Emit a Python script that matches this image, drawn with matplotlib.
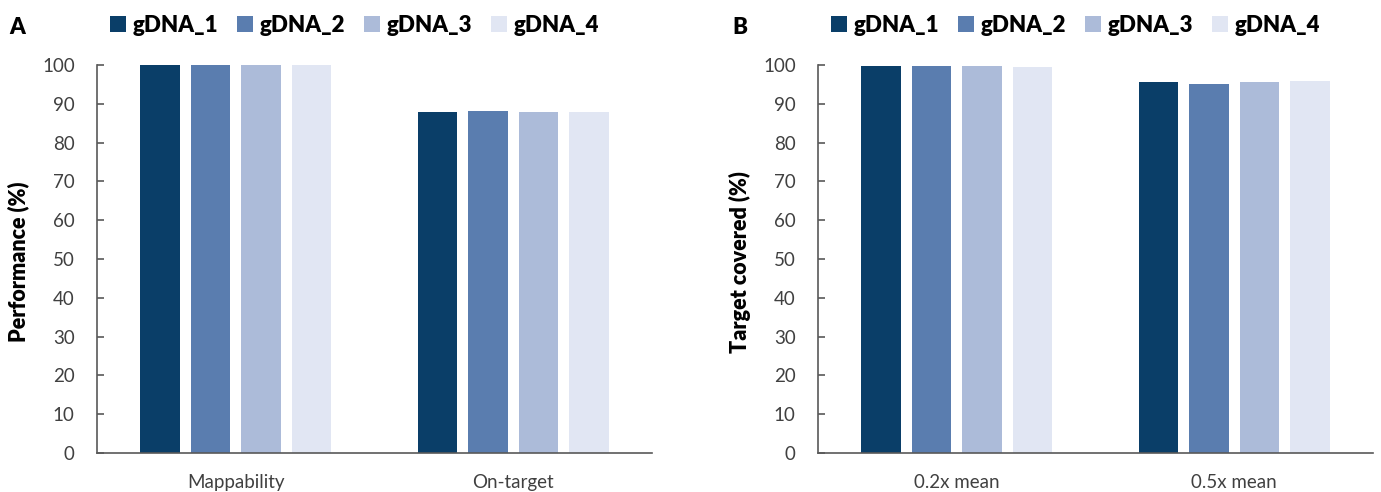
import matplotlib
matplotlib.use("Agg")
import matplotlib.pyplot as plt
import numpy as np
from matplotlib.patches import Patch

plt.rcParams['font.family'] = ['Lato', 'DejaVu Sans']

series = ["gDNA_1", "gDNA_2", "gDNA_3", "gDNA_4"]
colors = ["#0A3E68", "#5A7DAF", "#ACBBD9", "#E1E6F3"]

cats_a = ["Mappability", "On-target"]
vals_a = {
    "gDNA_1": [99.9, 87.9],
    "gDNA_2": [99.9, 88.1],
    "gDNA_3": [99.9, 88.0],
    "gDNA_4": [99.9, 88.0],
}
cats_b = ["0.2x mean", "0.5x mean"]
vals_b = {
    "gDNA_1": [99.7, 95.6],
    "gDNA_2": [99.7, 95.2],
    "gDNA_3": [99.7, 95.6],
    "gDNA_4": [99.5, 95.8],
}
yticks = [0, 10, 20, 30, 40, 50, 60, 70, 80, 90, 100]

fig = plt.figure(figsize=(13.81, 4.92), dpi=100)
W, H = 1381, 492

def make_ax(x0, x1, cats, vals, ylabel, panel, ylab_x, panel_x, leg_x):
    ax = fig.add_axes([x0 / W, 1 - 453 / H, (x1 - x0) / W, (453 - 65) / H])
    x = np.arange(len(cats))
    width = 0.144
    step = 0.182
    for i, s in enumerate(series):
        ax.bar(x + (i - 1.5) * step, vals[s], width, color=colors[i], label=s)
    ax.set_xlim(-0.5, len(cats) - 0.5)
    ax.set_ylim(0, 100)
    ax.set_yticks(yticks)
    ax.set_xticks(x)
    ax.set_xticklabels(cats)
    for sp in ["top", "right"]:
        ax.spines[sp].set_visible(False)
    for sp in ["left", "bottom"]:
        ax.spines[sp].set_color("#595959")
        ax.spines[sp].set_linewidth(1.2)
    ax.tick_params(axis="y", direction="in", length=5, width=1.2, color="#595959",
                   labelsize=13.5, labelcolor="#404040", pad=16)
    ax.tick_params(axis="x", length=0, labelsize=13.5, labelcolor="#404040", pad=15)
    fig.text(ylab_x / W, 1 - 262 / H, ylabel, rotation=90, fontsize=15.5,
             fontweight="heavy", ha="center", va="center", color="black")
    fig.text(panel_x / W, 1 - 27 / H, panel, fontsize=16, fontweight="heavy",
             ha="center", va="center", color="black")
    handles = [Patch(facecolor=c, edgecolor="none") for c in colors]
    fig.legend(handles, series, loc="center left", bbox_to_anchor=(leg_x / W, 1 - 25 / H),
               ncol=4, frameon=False, handlelength=0.72, handleheight=0.72,
               handletextpad=0.3, columnspacing=0.85, borderpad=0, borderaxespad=0,
               prop={"family": ["Lato", "DejaVu Sans"], "weight": "heavy", "size": 16})
    return ax

make_ax(97, 652, cats_a, vals_a, "Performance (%)", "A", 18, 17, 110)
make_ax(818, 1373, cats_b, vals_b, "Target covered (%)", "B", 740, 740, 831)

fig.savefig("out.png", dpi=100)
